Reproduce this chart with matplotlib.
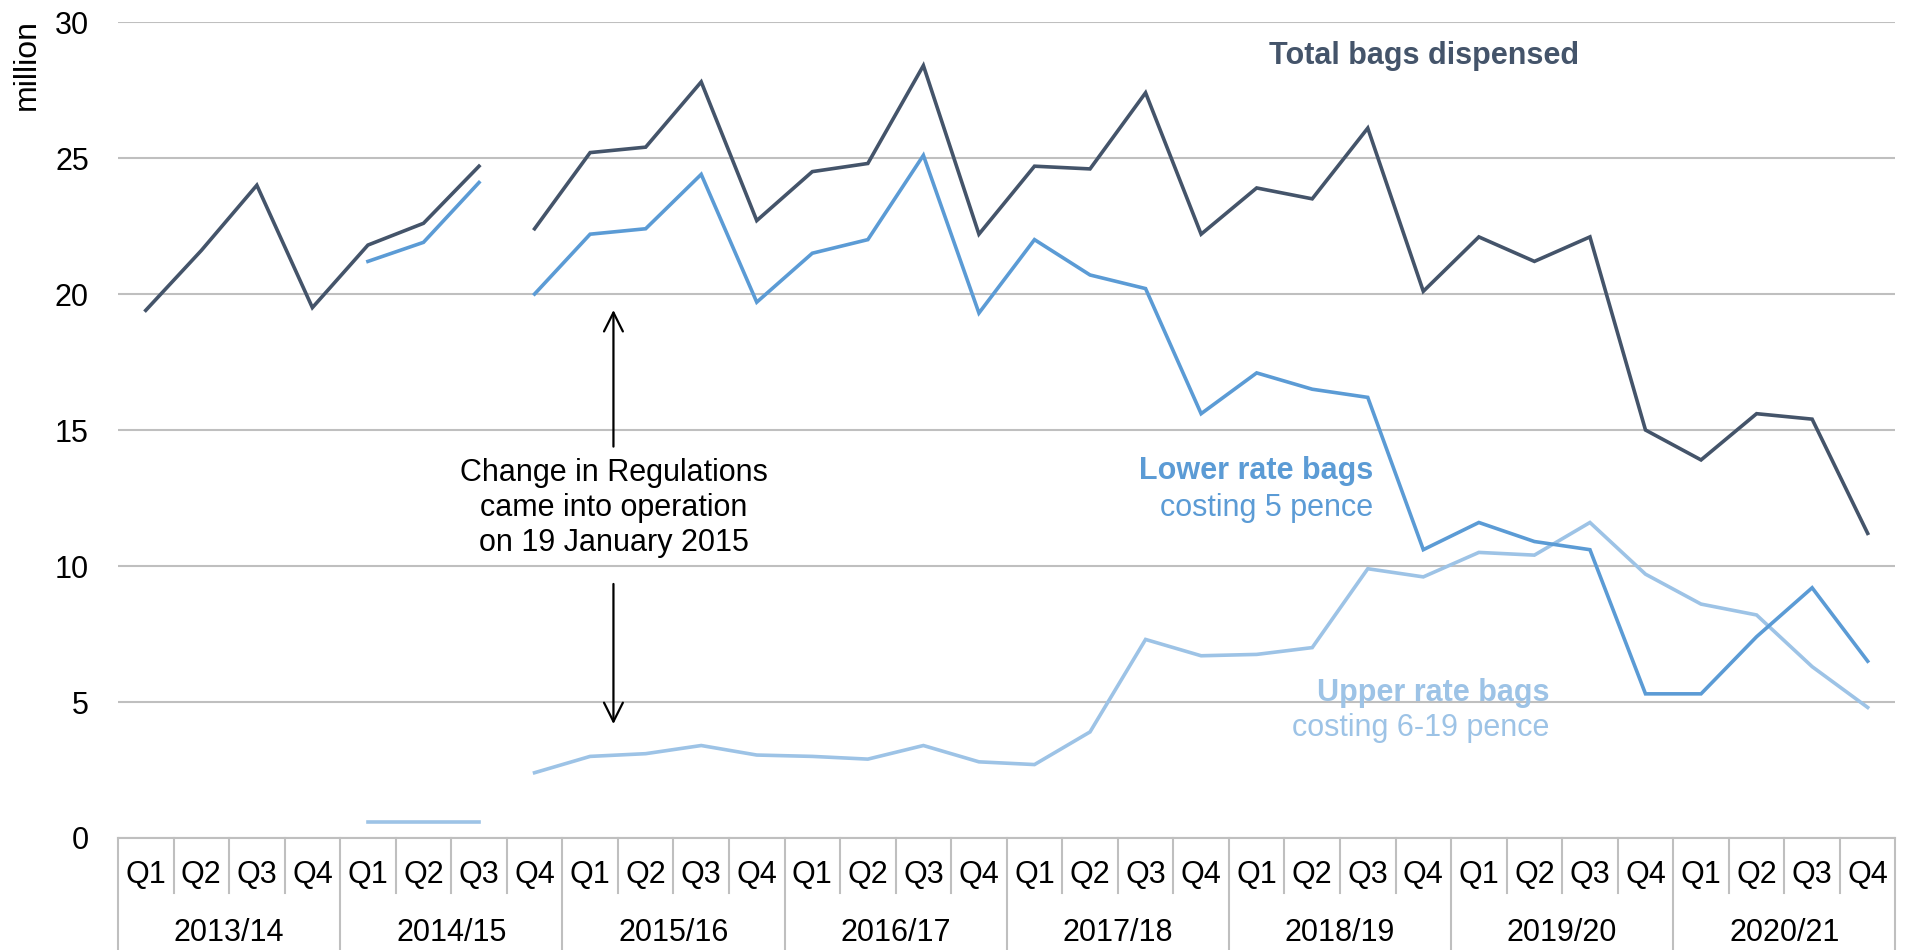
import matplotlib.pyplot as plt
import numpy as np

plt.rcParams['font.family'] = ['Liberation Sans', 'DejaVu Sans']

years = ['2013/14', '2014/15', '2015/16', '2016/17',
         '2017/18', '2018/19', '2019/20', '2020/21']
quarters = ['Q1', 'Q2', 'Q3', 'Q4']

# million bags per quarter; None = not reported
total = [19.4, 21.6, 24.0, 19.5, 21.8, 22.6, 24.7,
         22.4, 25.2, 25.4, 27.8, 22.7, 24.5, 24.8, 28.4, 22.2,
         24.7, 24.6, 27.4, 22.2, 23.9, 23.5, 26.1, 20.1,
         22.1, 21.2, 22.1, 15.0, 13.9, 15.6, 15.4, 11.2]
lower = [None, None, None, None, 21.2, 21.9, 24.1,
         20.0, 22.2, 22.4, 24.4, 19.7, 21.5, 22.0, 25.1, 19.3,
         22.0, 20.7, 20.2, 15.6, 17.1, 16.5, 16.2, 10.6,
         11.6, 10.9, 10.6, 5.3, 5.3, 7.4, 9.2, 6.5]
upper = [None, None, None, None, 0.6, 0.6, 0.6,
         2.4, 3.0, 3.1, 3.4, 3.05, 3.0, 2.9, 3.4, 2.8,
         2.7, 3.9, 7.3, 6.7, 6.75, 7.0, 9.9, 9.6,
         10.5, 10.4, 11.6, 9.7, 8.6, 8.2, 6.3, 4.8]
# index of first quarter after the change in regulations
change_idx = 7

c_total = '#44546A'
c_lower = '#5B9BD5'
c_upper = '#9DC3E6'
grid_c = '#BFBFBF'

fig = plt.figure(figsize=(19.09, 9.5), dpi=100)
ax = fig.add_axes([0.0618, 0.1179, 0.9311, 0.8589])

x = np.arange(len(total))


def plot_series(vals, color):
    v = np.array([np.nan if a is None else a for a in vals], dtype=float)
    ax.plot(x[:change_idx], v[:change_idx], color=color, lw=2.6,
            solid_joinstyle='miter', zorder=3)
    ax.plot(x[change_idx:], v[change_idx:], color=color, lw=2.6,
            solid_joinstyle='miter', zorder=3)


plot_series(upper, c_upper)
plot_series(lower, c_lower)
plot_series(total, c_total)

ax.set_xlim(-0.5, len(total) - 0.5)
ax.set_ylim(0, 30)
ax.set_yticks(range(0, 31, 5))
ax.yaxis.grid(True, color=grid_c, lw=1.5)
ax.set_axisbelow(True)
for s in ['top', 'right', 'left']:
    ax.spines[s].set_visible(False)
ax.spines['bottom'].set_color(grid_c)
ax.spines['bottom'].set_linewidth(1.5)
ax.tick_params(axis='y', length=0, pad=21, labelsize=22)
ax.set_xticks([])

# two-level category axis
tr = ax.get_xaxis_transform()
for i in range(len(total) + 1):
    bottom = -0.137 if i % 4 == 0 else -0.0674
    ax.plot([i - 0.5, i - 0.5], [0, bottom], color=grid_c, lw=1.5,
            transform=tr, clip_on=False)
for i in range(len(total)):
    ax.text(i, -0.0453, quarters[i % 4], transform=tr, ha='center',
            va='center', fontsize=22)
for k, yr in enumerate(years):
    ax.text(4 * k + 1.5, -0.116, yr, transform=tr, ha='center',
            va='center', fontsize=22)

fig.text(27 / 1909, 1 - 65 / 950, 'million', rotation=90, ha='center',
         va='center', fontsize=23)

# series labels
ax.text(25.8, 28.75, 'Total bags dispensed', color=c_total, fontsize=22,
        fontweight='bold', ha='right', va='center')
ax.text(22.1, 13.5, 'Lower rate bags', color=c_lower, fontsize=22,
        fontweight='bold', ha='right', va='center')
ax.text(22.1, 12.15, 'costing 5 pence', color=c_lower, fontsize=22,
        ha='right', va='center')
ax.text(25.27, 5.33, 'Upper rate bags', color=c_upper, fontsize=22,
        fontweight='bold', ha='right', va='center')
ax.text(25.27, 4.03, 'costing 6-19 pence', color=c_upper, fontsize=22,
        ha='right', va='center')

# regulation change note
ax.text(8.42, 12.13, 'Change in Regulations\ncame into operation\non 19 January 2015',
        ha='center', va='center', fontsize=22, linespacing=1.2)
ax.annotate('', xy=(8.42, 19.41), xytext=(8.42, 14.39),
            arrowprops=dict(arrowstyle='->', color='black', lw=1.6,
                            mutation_scale=34, shrinkA=0, shrinkB=0))
ax.annotate('', xy=(8.42, 4.19), xytext=(8.42, 9.34),
            arrowprops=dict(arrowstyle='->', color='black', lw=1.6,
                            mutation_scale=34, shrinkA=0, shrinkB=0))

fig.savefig('out.png', dpi=100)
